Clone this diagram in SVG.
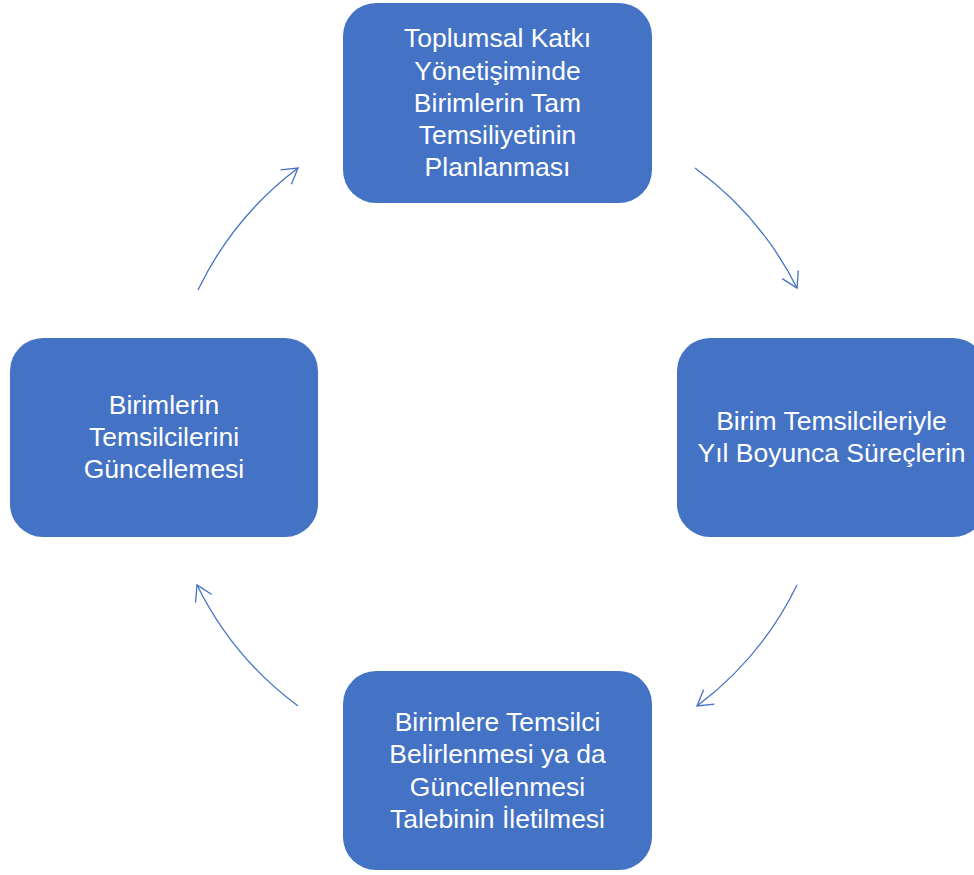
<svg xmlns="http://www.w3.org/2000/svg" width="974" height="875" viewBox="0 0 974 875">
<defs>
<style>
.node{fill:#4472C4;}
.lbl{font-family:"Liberation Sans",Arial,sans-serif;font-size:26.5px;fill:#ffffff;text-anchor:middle;}
.conn{fill:none;stroke:#4472C4;stroke-width:1.3;}
</style>
<marker id="arr" markerUnits="userSpaceOnUse" markerWidth="30" markerHeight="30" refX="0" refY="0" viewBox="-20 -15 30 30" orient="auto">
<path d="M-15,-9 L0,0 L-15,9" fill="none" stroke="#4472C4" stroke-width="1.3"/>
</marker>
</defs>
<rect width="974" height="875" fill="#ffffff"/>
<g id="connectors">
<path class="conn" d="M695,168 A334,334 0 0 1 797,288" marker-end="url(#arr)"/>
<path class="conn" d="M797,585 A334,334 0 0 1 697,706" marker-end="url(#arr)"/>
<path class="conn" d="M298,706 A334,334 0 0 1 197,585" marker-end="url(#arr)"/>
<path class="conn" d="M198,290 A334,334 0 0 1 298,168" marker-end="url(#arr)"/>
</g>
<g id="node-top">
<rect class="node" x="343" y="3" width="309" height="200" rx="33"/>
<text class="lbl" x="497.5" y="47">Toplumsal Katkı</text>
<text class="lbl" x="497.5" y="80">Yönetişiminde</text>
<text class="lbl" x="497.5" y="112">Birimlerin Tam</text>
<text class="lbl" x="497.5" y="144">Temsiliyetinin</text>
<text class="lbl" x="497.5" y="176">Planlanması</text>
</g>
<g id="node-right">
<rect class="node" x="677" y="338" width="309" height="199" rx="33"/>
<text class="lbl" x="831.5" y="430">Birim Temsilcileriyle</text>
<text class="lbl" x="831.5" y="462">Yıl Boyunca Süreçlerin</text>
</g>
<g id="node-bottom">
<rect class="node" x="343" y="671" width="309" height="199" rx="33"/>
<text class="lbl" x="497.5" y="731">Birimlere Temsilci</text>
<text class="lbl" x="497.5" y="763">Belirlenmesi ya da</text>
<text class="lbl" x="497.5" y="796">Güncellenmesi</text>
<text class="lbl" x="497.5" y="828">Talebinin İletilmesi</text>
</g>
<g id="node-left">
<rect class="node" x="10" y="338" width="308" height="199" rx="33"/>
<text class="lbl" x="164" y="414">Birimlerin</text>
<text class="lbl" x="164" y="446">Temsilcilerini</text>
<text class="lbl" x="164" y="478">Güncellemesi</text>
</g>
</svg>
